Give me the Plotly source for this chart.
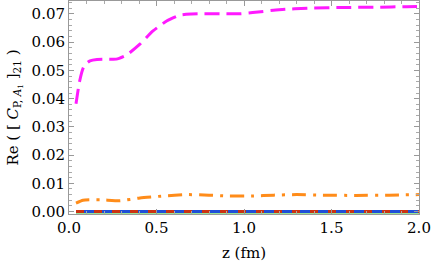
import plotly.graph_objects as go

# magenta dashed series
z_m = [0.04, 0.06, 0.082, 0.10, 0.12, 0.16, 0.215, 0.27, 0.33, 0.405, 0.48, 0.558, 0.634, 0.70, 0.75, 0.85, 0.98, 1.05, 1.20, 1.38, 1.57, 1.76, 1.93, 2.0]
v_m = [0.0382, 0.0460, 0.0510, 0.0525, 0.0534, 0.0539, 0.0540, 0.0540, 0.0555, 0.0593, 0.0640, 0.0675, 0.0696, 0.0700, 0.0701, 0.0701, 0.0701, 0.0705, 0.0715, 0.0721, 0.0723, 0.0724, 0.0726, 0.0727]

# orange dash-dot series
z_o = [0.04, 0.08, 0.177, 0.29, 0.405, 0.537, 0.67, 0.80, 0.90, 1.05, 1.17, 1.30, 1.45, 1.64, 1.83, 2.0]
v_o = [0.0030, 0.0040, 0.0042, 0.0038, 0.0048, 0.0055, 0.0060, 0.0058, 0.0055, 0.0055, 0.0058, 0.0060, 0.0058, 0.0057, 0.0058, 0.0060]

# near-zero series
z_0 = [0.04, 2.0]
v_blue = [0.0, 0.0]
v_red = [0.0, 0.0]
v_green = [-0.0004, -0.0004]

x_ticks = [0.0, 0.5, 1.0, 1.5, 2.0]
y_ticks = [0.00, 0.01, 0.02, 0.03, 0.04, 0.05, 0.06, 0.07]

SERIF = "DejaVu Serif"

fig = go.Figure()
fig.add_trace(go.Scatter(x=z_0, y=v_green, mode="lines", line=dict(color="#33cc33", width=1.5)))
fig.add_trace(go.Scatter(x=z_0, y=v_blue, mode="lines", line=dict(color="#1f4fd8", width=3)))
fig.add_trace(go.Scatter(x=z_0, y=v_red, mode="lines", line=dict(color="#cc3311", width=3, dash="8px,10px")))
fig.add_trace(go.Scatter(x=z_o, y=v_o, mode="lines", line=dict(color="#ff8c1a", width=3, dash="14px,7px,3px,7px", shape="spline", smoothing=0.5)))
fig.add_trace(go.Scatter(x=z_m, y=v_m, mode="lines", line=dict(color="#ff1aff", width=3, dash="15px,7px", shape="spline", smoothing=0.5)))

axis_common = dict(
    showgrid=False, zeroline=False, mirror="allticks", showline=True,
    linecolor="#999999", linewidth=1, ticks="inside", ticklen=5, tickcolor="#999999",
    tickfont=dict(family=SERIF, size=15, color="black"),
)

fig.update_layout(
    width=431, height=272,
    margin=dict(l=69, r=12, t=1, b=58),
    paper_bgcolor="white", plot_bgcolor="white",
    font=dict(family=SERIF, size=15, color="black"),
    showlegend=False,
    xaxis=dict(range=[0, 2], tickvals=x_ticks, ticktext=["0.0", "0.5", "1.0", "1.5", "2.0"],
               minor=dict(dtick=0.1, ticks="inside", ticklen=3, tickcolor="#aaaaaa"),
               title=dict(text="z (fm)", font=dict(family=SERIF, size=15, color="black"), standoff=11),
               **axis_common),
    yaxis=dict(range=[-0.00088, 0.0746], tickvals=y_ticks, ticktext=[f"{v:.2f}" for v in y_ticks],
               minor=dict(dtick=0.002, tick0=0, ticks="inside", ticklen=3, tickcolor="#aaaaaa"),
               title=dict(text="Re ( [ <i>C</i><sub>P, <i>A</i><sub>1</sub></sub> ]<sub>21</sub> )",
                          font=dict(family=SERIF, size=15, color="black"), standoff=9),
               **axis_common),
)

fig.write_html("out.html", config={"displayModeBar": False},
               post_script="document.body.style.margin='0';")
